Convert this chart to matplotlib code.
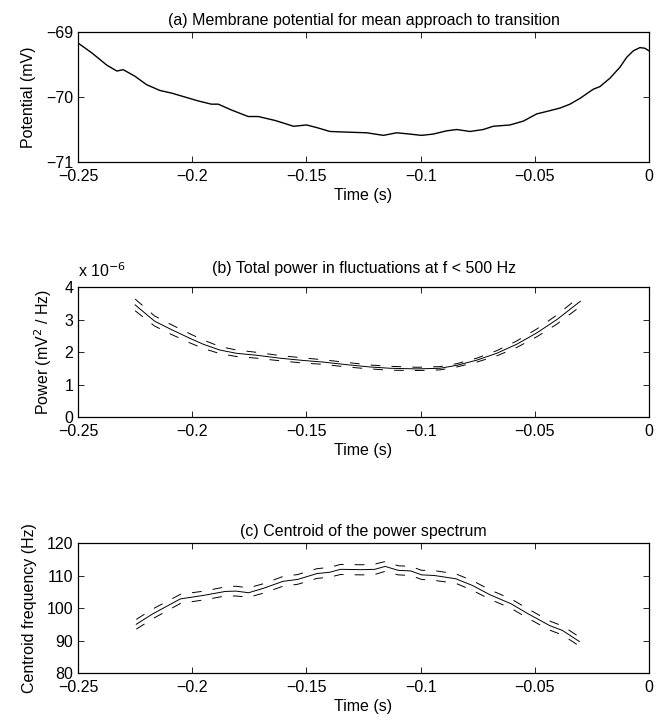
import matplotlib
matplotlib.use("Agg")
import matplotlib.pyplot as plt
import matplotlib.ticker as mticker
import numpy as np

plt.rcParams['font.family'] = ['Liberation Sans', 'DejaVu Sans']
plt.rcParams['lines.scale_dashes'] = False

# (a) mean membrane potential
t_a = [-0.25, -0.244, -0.2374, -0.233, -0.2302, -0.2251, -0.22, -0.2141, -0.209, -0.2032,
       -0.1974, -0.1916, -0.1886, -0.1828, -0.1755, -0.1711, -0.1638, -0.1601, -0.1557, -0.1499,
       -0.1455, -0.1397, -0.1324, -0.1236, -0.1163, -0.1105, -0.1047, -0.0996, -0.0945, -0.0886,
       -0.0842, -0.0784, -0.0726, -0.0682, -0.0609, -0.055, -0.0492, -0.0434, -0.039, -0.0346,
       -0.0302, -0.0244, -0.0215, -0.0171, -0.0127, -0.0098, -0.0069, -0.004, -0.0018, 0.0]
v_a = [-69.17, -69.32, -69.51, -69.60, -69.58, -69.68, -69.81, -69.90, -69.94, -70.00,
       -70.06, -70.11, -70.11, -70.20, -70.30, -70.30, -70.36, -70.40, -70.45, -70.43,
       -70.47, -70.53, -70.54, -70.55, -70.59, -70.55, -70.57, -70.59, -70.57, -70.52,
       -70.50, -70.53, -70.50, -70.45, -70.43, -70.37, -70.26, -70.21, -70.17, -70.11,
       -70.02, -69.88, -69.84, -69.71, -69.54, -69.39, -69.29, -69.24, -69.25, -69.29]

# (b) total power (x 1e-6 mV^2/Hz), mean and bounds
t_b = [-0.225, -0.2165, -0.2097, -0.201, -0.1952, -0.1879, -0.1806, -0.1718, -0.1616, -0.1514,
       -0.1426, -0.1324, -0.1222, -0.1134, -0.1017, -0.0915, -0.0842, -0.0754, -0.0667, -0.0579,
       -0.0491, -0.0403, -0.0301]
p_b = [3.45, 2.95, 2.71, 2.42, 2.24, 2.06, 1.96, 1.90, 1.81, 1.74,
       1.69, 1.61, 1.54, 1.50, 1.48, 1.50, 1.59, 1.75, 1.96, 2.24,
       2.59, 3.00, 3.56]
p_b_hi = [3.63, 3.11, 2.86, 2.56, 2.37, 2.17, 2.06, 1.99, 1.89, 1.82,
          1.76, 1.68, 1.60, 1.56, 1.53, 1.55, 1.64, 1.81, 2.04, 2.34,
          2.71, 3.14, 3.72]
p_b_lo = [3.27, 2.80, 2.56, 2.28, 2.11, 1.95, 1.86, 1.81, 1.73, 1.66,
          1.62, 1.54, 1.48, 1.44, 1.43, 1.45, 1.54, 1.69, 1.88, 2.14,
          2.47, 2.86, 3.40]

# (c) centroid frequency (Hz), mean and bounds
t_c = [-0.2245, -0.2173, -0.2052, -0.1949, -0.1855, -0.1809, -0.1753, -0.1687, -0.1603, -0.1538,
       -0.1454, -0.1398, -0.1351, -0.1258, -0.1201, -0.1155, -0.1099, -0.1043, -0.0996, -0.094,
       -0.0846, -0.0772, -0.0697, -0.0604, -0.0529, -0.0435, -0.0379, -0.0305]
f_c = [95.0, 98.2, 102.8, 103.9, 105.1, 105.2, 104.7, 106.1, 108.2, 108.8,
       110.6, 111.0, 111.9, 111.8, 111.9, 112.8, 111.6, 111.4, 110.2, 110.0,
       109.0, 106.9, 104.1, 101.3, 98.2, 94.6, 93.1, 89.7]
f_c_hi = [96.5, 99.7, 104.2, 105.2, 106.5, 106.7, 106.2, 107.5, 109.7, 110.3,
          112.1, 112.5, 113.4, 113.3, 113.5, 114.3, 113.0, 112.8, 111.6, 111.5,
          110.5, 108.4, 105.6, 102.8, 99.7, 96.0, 94.5, 91.1]
f_c_lo = [93.5, 96.7, 101.4, 102.5, 103.7, 103.7, 103.3, 104.6, 106.7, 107.3,
          109.1, 109.5, 110.3, 110.2, 110.3, 111.3, 110.2, 110.0, 108.8, 108.5,
          107.6, 105.4, 102.7, 99.9, 96.8, 93.2, 91.7, 88.3]

x_ticks = [-0.25, -0.2, -0.15, -0.1, -0.05, 0]

font_size = 11.5
dash = (7, 8)

fig = plt.figure(figsize=(6.68, 7.24), dpi=100)
left, width, height = 0.1168, 0.8548, 0.1796
ax1 = fig.add_axes([left, 0.7762, width, height])
ax2 = fig.add_axes([left, 0.4240, width, height])
ax3 = fig.add_axes([left, 0.0704, width, height])


def fmt(v, pos):
    return ('%g' % v).replace('-', '\u2212')


def style(ax):
    ax.set_xlim(-0.25, 0)
    ax.set_xticks(x_ticks)
    ax.xaxis.set_major_formatter(mticker.FuncFormatter(fmt))
    ax.yaxis.set_major_formatter(mticker.FuncFormatter(fmt))
    ax.tick_params(direction='in', top=True, right=True, length=4, width=0.6,
                   labelsize=font_size)
    ax.tick_params(axis='x', pad=5)
    ax.tick_params(axis='y', pad=3.5)
    for s in ax.spines.values():
        s.set_linewidth(0.9)
    ax.set_xlabel("Time (s)", fontsize=font_size, labelpad=3)


# panel a
ax1.plot(t_a, v_a, color='black', linewidth=1.0)
style(ax1)
ax1.set_ylim(-71, -69)
ax1.set_yticks([-71, -70, -69])
ax1.set_ylabel("Potential (mV)", fontsize=font_size, labelpad=7)
ax1.set_title("(a) Membrane potential for mean approach to transition", fontsize=font_size, pad=5)

# panel b
ax2.plot(t_b, p_b, color='black', linewidth=0.7)
ax2.plot(t_b, p_b_hi, color='black', linewidth=0.7, dashes=dash)
ax2.plot(t_b, p_b_lo, color='black', linewidth=0.7, dashes=dash)
style(ax2)
ax2.set_ylim(0, 4)
ax2.set_yticks([0, 1, 2, 3, 4])
ax2.set_ylabel("Power (mV$^2$ / Hz)", fontsize=font_size, labelpad=7)
ax2.set_title("(b) Total power in fluctuations at f < 500 Hz", fontsize=font_size, pad=10)
ax2.text(0.0, 1.05, "x 10$^{-6}$", transform=ax2.transAxes, fontsize=font_size,
         ha='left', va='bottom')

# panel c
ax3.plot(t_c, f_c, color='black', linewidth=0.7)
ax3.plot(t_c, f_c_hi, color='black', linewidth=0.7, dashes=dash)
ax3.plot(t_c, f_c_lo, color='black', linewidth=0.7, dashes=dash)
style(ax3)
ax3.set_ylim(80, 120)
ax3.set_yticks([80, 90, 100, 110, 120])
ax3.set_ylabel("Centroid frequency (Hz)", fontsize=font_size, labelpad=7)
ax3.set_title("(c) Centroid of the power spectrum", fontsize=font_size, pad=5)

plt.savefig("out.png", dpi=100)
